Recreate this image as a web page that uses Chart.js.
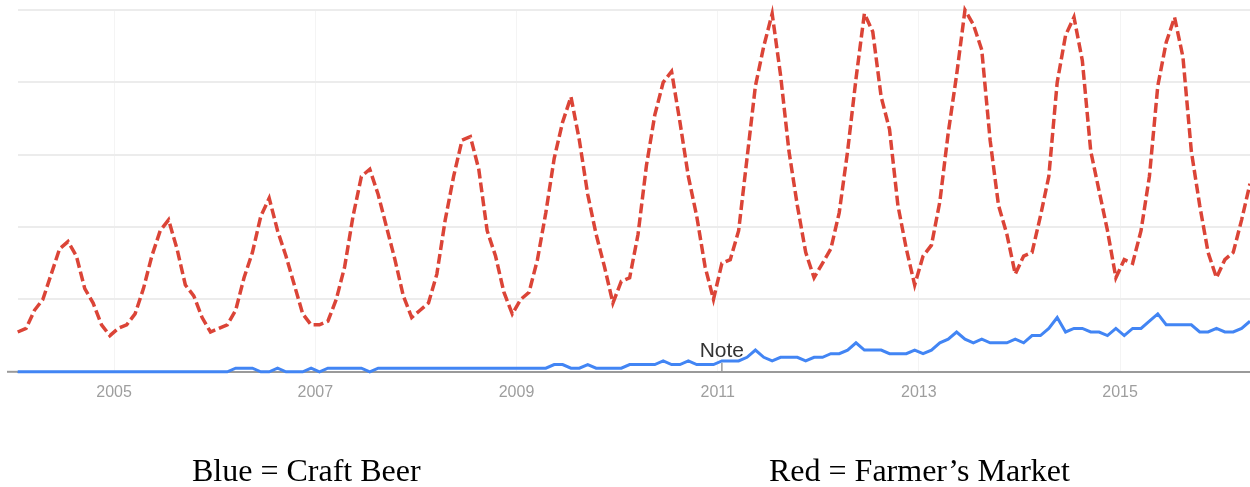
<!DOCTYPE html>
<html>
<head>
<meta charset="utf-8">
<script src="https://cdn.jsdelivr.net/npm/chart.js@4.4.1/dist/chart.umd.min.js"></script>
<style>
  body { margin: 0; background: #fff; }
  #wrap { position: relative; width: 1250px; height: 487px; overflow: hidden; }
  .cap { position: absolute; top: 454px; font: 32px/32px "Liberation Serif", "Times New Roman", serif; color: #000; white-space: nowrap; }
</style>
</head>
<body>
<div id="wrap">
  <canvas id="myChart"></canvas>
  <div class="cap" style="left:192px">Blue = Craft Beer</div>
  <div class="cap" style="left:769px">Red = Farmer’s Market</div>
</div>
<script>
// monthly search interest, Jan 2004 .. Apr 2016
var startYear = 2004;
var yearTicks = [2005, 2007, 2009, 2011, 2013, 2015];
var noteLabel = "Note";
var noteMonth = 84; // Jan 2011

var farmersMarket = [
  11, 12, 17, 20, 27, 34, 36, 32, 23, 19, 13, 10,
  12, 13, 16, 23, 32, 39, 42, 34, 24, 21, 15, 11,
  12, 13, 17, 26, 33, 43, 48, 39, 32, 24, 16, 13,
  13, 14, 20, 29, 43, 54, 56, 49, 40, 31, 21, 15,
  17, 19, 27, 42, 54, 64, 65, 56, 39, 32, 22, 16,
  20, 22, 31, 44, 59, 69, 76, 64, 49, 38, 29, 19,
  25, 26, 38, 57, 71, 80, 83, 69, 54, 43, 29, 20,
  30, 31, 39, 59, 79, 90, 99, 82, 61, 46, 33, 26,
  30, 34, 44, 61, 81, 99, 94, 76, 67, 46, 34, 24,
  32, 35, 47, 66, 82, 100, 96, 89, 64, 46, 38, 27,
  32, 33, 43, 54, 80, 93, 98, 86, 61, 50, 39, 26,
  31, 30, 39, 54, 79, 91, 98, 87, 61, 46, 33, 26,
  31, 33, 42, 52
];

var craftBeer = [
  0, 0, 0, 0, 0, 0, 0, 0, 0, 0, 0, 0,
  0, 0, 0, 0, 0, 0, 0, 0, 0, 0, 0, 0,
  0, 0, 1, 1, 1, 0, 0, 1, 0, 0, 0, 1,
  0, 1, 1, 1, 1, 1, 0, 1, 1, 1, 1, 1,
  1, 1, 1, 1, 1, 1, 1, 1, 1, 1, 1, 1,
  1, 1, 1, 1, 2, 2, 1, 1, 2, 1, 1, 1,
  1, 2, 2, 2, 2, 3, 2, 2, 3, 2, 2, 2,
  3, 3, 3, 4, 6, 4, 3, 4, 4, 4, 3, 4,
  4, 5, 5, 6, 8, 6, 6, 6, 5, 5, 5, 6,
  5, 6, 8, 9, 11, 9, 8, 9, 8, 8, 8, 9,
  8, 10, 10, 12, 15, 11, 12, 12, 11, 11, 10, 12,
  10, 12, 12, 14, 16, 13, 13, 13, 13, 11, 11, 12,
  11, 11, 12, 14
];

function monthX(i) {
  return startYear + (i + 0.5) / 12;
}

var notePlugin = {
  id: 'note',
  beforeDatasetsDraw: function(chart) {
    var ctx = chart.ctx;
    var y0 = chart.scales.y.getPixelForValue(0);
    ctx.save();
    ctx.strokeStyle = '#9a9a9a';
    ctx.lineWidth = 2;
    ctx.beginPath();
    ctx.moveTo(7, y0);
    ctx.lineTo(chart.chartArea.left, y0);
    ctx.stroke();
    ctx.restore();
  },
  afterDatasetsDraw: function(chart) {
    var ctx = chart.ctx;
    var x = chart.scales.x.getPixelForValue(monthX(noteMonth));
    var y0 = chart.scales.y.getPixelForValue(0);
    ctx.save();
    ctx.strokeStyle = '#9a9a9a';
    ctx.lineWidth = 1.5;
    ctx.beginPath();
    ctx.moveTo(x, y0 - 9);
    ctx.lineTo(x, y0);
    ctx.stroke();
    ctx.fillStyle = '#333';
    ctx.font = '21px "Liberation Sans", Arial, sans-serif';
    ctx.textAlign = 'center';
    ctx.textBaseline = 'middle';
    ctx.fillText(noteLabel, x, y0 - 21);
    ctx.restore();
  }
};

var ctx = document.getElementById("myChart");

new Chart(ctx, {
  type: 'line',
  data: {
    datasets: [{
      label: 'Farmer’s Market',
      data: farmersMarket.map(function(v, i) { return { x: monthX(i), y: v }; }),
      borderColor: '#db4437',
      borderWidth: 3.5,
      borderDash: [10, 4],
      pointRadius: 0,
      tension: 0,
      clip: false
    }, {
      label: 'Craft Beer',
      data: craftBeer.map(function(v, i) { return { x: monthX(i), y: v }; }),
      borderColor: '#4285f4',
      borderWidth: 3,
      pointRadius: 0,
      tension: 0,
      clip: false
    }]
  },
  options: {
    responsive: true,
    maintainAspectRatio: false,
    animation: false,
    layout: { padding: { left: 17.7, right: 0, top: 10, bottom: 74 } },
    plugins: { legend: { display: false }, tooltip: { enabled: false } },
    scales: {
      x: {
        type: 'linear',
        min: monthX(0),
        max: monthX(farmersMarket.length - 1),
        afterBuildTicks: function(scale) {
          scale.ticks = yearTicks.map(function(v) { return { value: v }; });
        },
        ticks: {
          padding: 11,
          color: '#9e9e9e',
          font: { family: '"Liberation Sans", Arial, sans-serif', size: 16 },
          maxRotation: 0,
          autoSkip: false,
          callback: function(v) { return String(v); }
        },
        grid: { color: '#f4f4f4', lineWidth: 1, drawTicks: false },
        border: { color: '#9a9a9a', width: 2 }
      },
      y: {
        min: 0,
        max: 100,
        ticks: { display: false, stepSize: 20 },
        grid: { color: '#ececec', lineWidth: 2, drawTicks: false },
        border: { display: false }
      }
    }
  },
  plugins: [notePlugin]
});
</script>
</body>
</html>
